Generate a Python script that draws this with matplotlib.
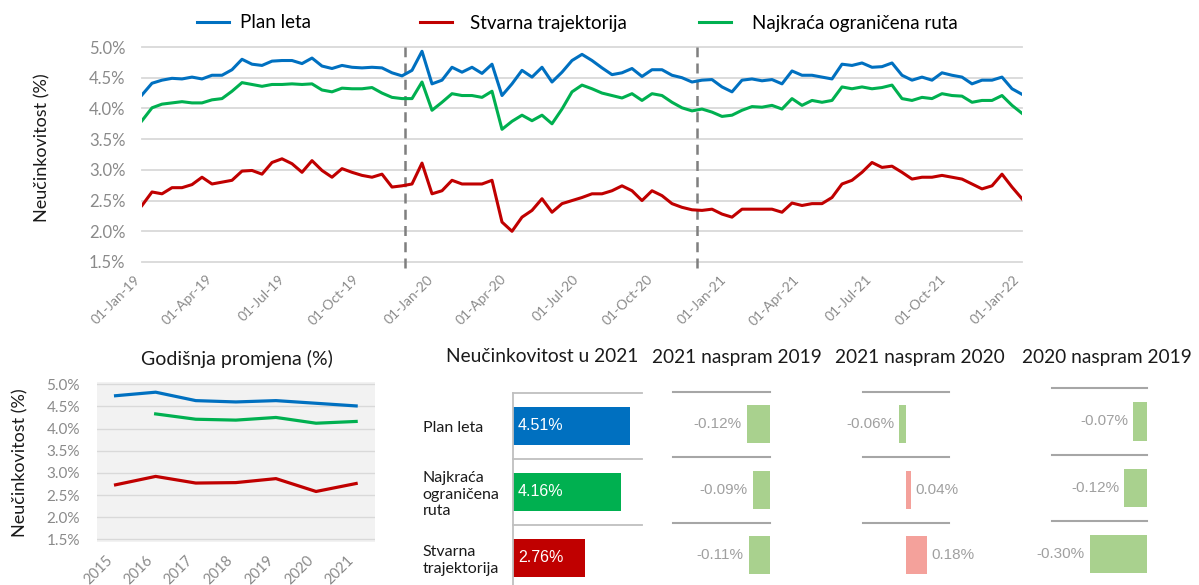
import matplotlib
matplotlib.use('Agg')
import matplotlib.pyplot as plt
import matplotlib.dates as mdates
import numpy as np
import pandas as pd

plt.rcParams['font.family'] = ['Lato', 'DejaVu Sans']

# ---------------- data ----------------
dates = pd.date_range('2019-01-01', '2022-01-01', periods=89)

plan_leta = [4.22, 4.41, 4.46, 4.49, 4.48, 4.51, 4.48, 4.54, 4.54, 4.63,
             4.80, 4.72, 4.70, 4.77, 4.78, 4.78, 4.73, 4.82, 4.69, 4.65,
             4.70, 4.67, 4.66, 4.67, 4.66, 4.58, 4.53, 4.62, 4.93, 4.40,
             4.46, 4.67, 4.59, 4.67, 4.57, 4.72, 4.21, 4.40, 4.62, 4.51,
             4.67, 4.43, 4.59, 4.78, 4.88, 4.78, 4.66, 4.55, 4.58, 4.65,
             4.52, 4.63, 4.63, 4.54, 4.50, 4.43, 4.46, 4.47, 4.35, 4.27,
             4.46, 4.48, 4.45, 4.47, 4.40, 4.61, 4.54, 4.54, 4.51, 4.48,
             4.72, 4.70, 4.74, 4.67, 4.68, 4.74, 4.54, 4.46, 4.51, 4.46,
             4.58, 4.54, 4.51, 4.40, 4.46, 4.46, 4.51, 4.32, 4.23]

najkraca = [3.80, 4.01, 4.07, 4.09, 4.11, 4.09, 4.09, 4.14, 4.16, 4.28,
            4.42, 4.39, 4.36, 4.39, 4.39, 4.40, 4.39, 4.40, 4.30, 4.27,
            4.33, 4.32, 4.32, 4.34, 4.25, 4.18, 4.16, 4.16, 4.43, 3.97,
            4.10, 4.24, 4.21, 4.21, 4.18, 4.28, 3.66, 3.79, 3.89, 3.80,
            3.89, 3.75, 3.99, 4.27, 4.38, 4.32, 4.25, 4.21, 4.17, 4.24,
            4.13, 4.24, 4.21, 4.10, 4.01, 3.96, 3.99, 3.94, 3.87, 3.89,
            3.97, 4.03, 4.02, 4.05, 3.99, 4.16, 4.05, 4.13, 4.10, 4.13,
            4.35, 4.32, 4.35, 4.32, 4.34, 4.38, 4.16, 4.13, 4.18, 4.16,
            4.24, 4.21, 4.20, 4.10, 4.13, 4.13, 4.21, 4.05, 3.92]

stvarna = [2.42, 2.64, 2.61, 2.71, 2.71, 2.76, 2.88, 2.77, 2.80, 2.83,
           2.98, 2.99, 2.93, 3.12, 3.18, 3.10, 2.96, 3.15, 2.99, 2.88,
           3.02, 2.96, 2.91, 2.88, 2.93, 2.72, 2.74, 2.77, 3.11, 2.61,
           2.66, 2.83, 2.77, 2.77, 2.77, 2.83, 2.15, 2.00, 2.23, 2.34,
           2.53, 2.31, 2.45, 2.50, 2.55, 2.61, 2.61, 2.66, 2.74, 2.66,
           2.50, 2.66, 2.58, 2.45, 2.39, 2.35, 2.34, 2.36, 2.28, 2.23,
           2.36, 2.36, 2.36, 2.36, 2.31, 2.46, 2.42, 2.45, 2.45, 2.55,
           2.77, 2.83, 2.96, 3.12, 3.04, 3.06, 2.96, 2.85, 2.88, 2.88,
           2.91, 2.88, 2.85, 2.77, 2.69, 2.74, 2.93, 2.72, 2.53]

marker_dates = ['2019-11-25', '2020-11-22']
date_ticks = ['2019-01-01', '2019-04-01', '2019-07-01', '2019-10-01',
              '2020-01-01', '2020-04-01', '2020-07-01', '2020-10-01',
              '2021-01-01', '2021-04-01', '2021-07-01', '2021-10-01',
              '2022-01-01']

years = ['2015', '2016', '2017', '2018', '2019', '2020', '2021']
plan_year = [4.74, 4.82, 4.63, 4.60, 4.63, 4.57, 4.51]
najk_year = [np.nan, 4.33, 4.21, 4.19, 4.25, 4.12, 4.16]
stv_year = [2.73, 2.92, 2.77, 2.78, 2.87, 2.58, 2.76]

categories = ['Plan leta', 'Najkraća\nograničena\nruta', 'Stvarna\ntrajektorija']
value_2021 = [4.51, 4.16, 2.76]
d_21_19 = [-0.12, -0.09, -0.11]
d_21_20 = [-0.06, 0.04, 0.18]
d_20_19 = [-0.07, -0.12, -0.30]

series_names = ['Plan leta', 'Stvarna trajektorija', 'Najkraća ograničena ruta']

# ---------------- style ----------------
BLUE, RED, GREEN = '#0070c0', '#c00000', '#00b050'
GRID = '#d9d9d9'
TICK = '#8a8a8a'
TXT = '#1a1a1a'
W, H = 1199, 585


def px_box(x0, y0, x1, y1):
    return [x0 / W, 1 - y1 / H, (x1 - x0) / W, (y1 - y0) / H]


fig = plt.figure(figsize=(W / 100, H / 100), dpi=100)

# ---------------- top time series ----------------
ax = fig.add_axes(px_box(142, 47, 1022, 262))
l1, = ax.plot(dates, plan_leta, color=BLUE, lw=2.2)
l2, = ax.plot(dates, stvarna, color=RED, lw=2.2)
l3, = ax.plot(dates, najkraca, color=GREEN, lw=2.2)
for d in marker_dates:
    ax.axvline(pd.Timestamp(d), color='#7f7f7f', lw=1.8, ls=(0, (4, 2.5)),
               ymin=-0.03, ymax=1.0, clip_on=False, zorder=1)
ax.set_xlim(pd.Timestamp('2019-01-01'), pd.Timestamp('2022-01-01'))
ax.set_ylim(1.5, 5.0)
ax.set_yticks(np.arange(1.5, 5.01, 0.5))
ax.set_yticklabels([f'{v:.1f}%' for v in np.arange(1.5, 5.01, 0.5)])
ax.set_xticks([pd.Timestamp(t) for t in date_ticks])
ax.xaxis.set_major_formatter(mdates.DateFormatter('%d-%b-%y'))
for s in ax.spines.values():
    s.set_visible(False)
ax.grid(axis='y', color=GRID, lw=1.3, zorder=0)
ax.set_axisbelow(True)
ax.tick_params(axis='y', length=0, pad=12, labelsize=12, labelcolor=TICK)
ax.tick_params(axis='x', length=0, pad=8, labelsize=10, labelcolor=TICK)
for lab in ax.get_xticklabels():
    lab.set_rotation(45)
    lab.set_ha('right')
for ln in ax.get_ygridlines():
    ln.set_clip_on(False)

fig.text(42 / W, 1 - 148 / H, 'Neučinkovitost (%)', rotation=90,
         ha='center', va='center', fontsize=13, color=TXT)

# legend entries
for handle, name, xpos, tpad in zip([l1, l2, l3], series_names,
                                    [196.7, 420, 699], [0.6, 0.95, 1.15]):
    fig.legend(handles=[handle], labels=[name], loc='center left',
               bbox_to_anchor=(xpos / W, 1 - 23 / H), frameon=False,
               fontsize=13.5, handlelength=1.7, handletextpad=tpad,
               borderpad=0, borderaxespad=0)

# ---------------- bottom-left annual chart ----------------
ax2 = fig.add_axes(px_box(96.7, 382, 375, 542))
ax2.set_facecolor('#f2f2f2')
xi = np.arange(len(years))
ax2.plot(xi, plan_year, color=BLUE, lw=2.3)
ax2.plot(xi, najk_year, color=GREEN, lw=2.3)
ax2.plot(xi, stv_year, color=RED, lw=2.3)
ax2.set_xlim(-0.47, 6.47)
ax2.set_ylim(1.44, 5.05)
ax2.set_yticks(np.arange(1.5, 5.01, 0.5))
ax2.set_yticklabels([f'{v:.1f}%' for v in np.arange(1.5, 5.01, 0.5)])
ax2.set_xticks(xi)
ax2.set_xticklabels(years, rotation=45, ha='right')
for s in ax2.spines.values():
    s.set_visible(False)
ax2.grid(axis='y', color=GRID, lw=1.0)
ax2.set_axisbelow(True)
ax2.tick_params(axis='y', length=0, pad=12, labelsize=11, labelcolor=TICK)
ax2.tick_params(axis='x', length=0, pad=8, labelsize=10.5, labelcolor=TICK)
fig.text(237 / W, 1 - 359 / H, 'Godišnja promjena (%)', ha='center', va='center',
         fontsize=14, color=TXT)
fig.text(20 / W, 1 - 463 / H, 'Neučinkovitost (%)', rotation=90,
         ha='center', va='center', fontsize=13, color=TXT)

# ---------------- 2021 bars ----------------
ax3 = fig.add_axes(px_box(513, 393, 642, 591))
yi = np.arange(len(categories))
ax3.barh(yi, value_2021, height=0.58, color=[BLUE, GREEN, RED])
ax3.set_ylim(2.5, -0.5)
ax3.set_xlim(0, 4.96)
for s in ['top', 'right', 'bottom']:
    ax3.spines[s].set_visible(False)
ax3.spines['left'].set_color('#bfbfbf')
ax3.spines['left'].set_linewidth(1.3)
for yb in [-0.5, 0.5, 1.5]:
    ax3.axhline(yb, color='#bfbfbf', lw=1.3, clip_on=False)
ax3.set_xticks([])
ax3.set_yticks(yi)
ax3.set_yticklabels(categories, ha='left', fontsize=11.5, color=TXT)
ax3.tick_params(axis='y', length=0, pad=65)
for i, v in enumerate(value_2021):
    ax3.annotate(f'{v:.2f}%', xy=(0, i), xytext=(3.5, 0), textcoords='offset points',
                 ha='left', va='center', color='white', fontsize=11.5,
                 family='Liberation Sans')
fig.text(542 / W, 1 - 357 / H, 'Neučinkovitost u 2021', ha='center', va='center',
         fontsize=13.8, color=TXT)


# ---------------- delta panels ----------------
def delta_panel(box, vals, xlim, title, title_x):
    a = fig.add_axes(px_box(*box))
    cols = ['#a9d18e' if v < 0 else '#f4a19b' for v in vals]
    bars = a.barh(yi, vals, height=0.58, color=cols)
    a.set_ylim(2.5, -0.5)
    a.set_xlim(*xlim)
    a.axis('off')
    for yb in [-0.5, 0.5, 1.5]:
        a.axhline(yb, color='#a6a6a6', lw=1.5, clip_on=False)
    a.bar_label(bars, labels=[f'{v:.2f}%' for v in vals], padding=3.5,
                color='#a0a0a0', fontsize=11, family='Liberation Sans')
    fig.text(title_x / W, 1 - 357 / H, title, ha='center', va='center',
             fontsize=13.8, color=TXT)


delta_panel((673, 391.7, 770, 588), d_21_19, (-0.5, 0), '2021 naspram 2019', 737)
delta_panel((862.7, 391.7, 949.3, 588), d_21_20, (-0.377, 0.377), '2021 naspram 2020', 920)
delta_panel((1051.7, 388.3, 1146.7, 587.3), d_20_19, (-0.5, 0), '2020 naspram 2019', 1107)

fig.savefig('out.png', dpi=100)
